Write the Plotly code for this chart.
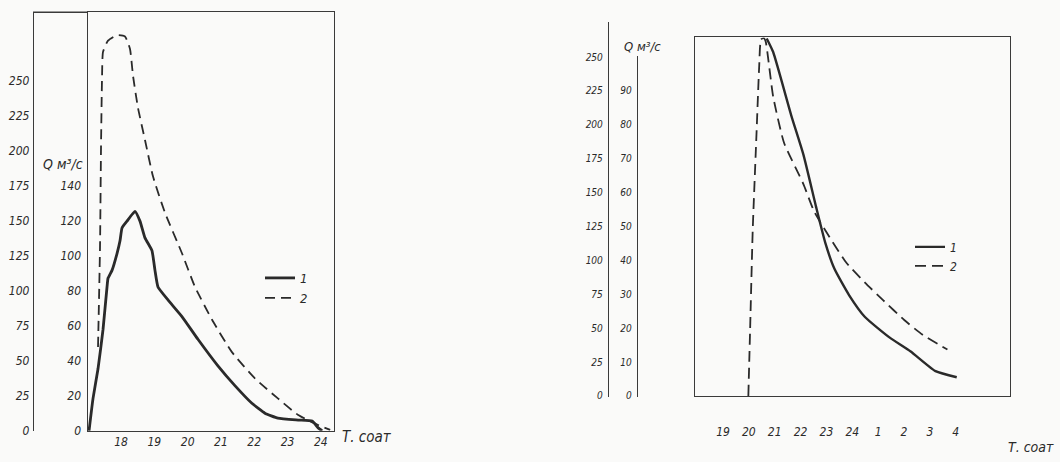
import plotly.graph_objects as go

# ---------------- data ----------------
# left panel (hours 17..24)
left_hours_1 = [17.04, 17.16, 17.31, 17.46, 17.58, 17.61, 17.73, 17.88, 17.97, 18.03, 18.18, 18.42,
                18.57, 18.72, 18.93, 19.02, 19.11, 19.41, 19.83, 20.31, 20.91, 21.42, 21.93, 22.32,
                22.71, 23.32, 23.74, 23.92, 24.04]
left_q_1 = [0, 18.6, 35.5, 58.0, 82.3, 87.3, 91.8, 101.4, 108.7, 116.1, 120.0, 125.6,
            120.0, 110.4, 103.1, 91.8, 82.3, 74.9, 65.4, 52.4, 37.2, 25.9, 15.8, 10.1,
            7.3, 6.2, 5.6, 1.7, 0]
left_hours_2 = [17.31, 17.37, 17.40, 17.43, 17.46, 17.61, 17.88, 18.12, 18.27, 18.36, 18.51, 18.72,
                18.96, 19.32, 19.83, 20.22, 20.73, 21.33, 22.03, 22.71, 23.32, 23.92, 24.28]
left_q_2 = [59.9, 132, 203, 252, 271, 279, 283, 282, 273, 254, 231, 208,
            182, 156, 127, 103, 79.6, 56.3, 37.3, 23.2, 11.3, 4.2, 0.7]

left_x_ticks = [18, 19, 20, 21, 22, 23, 24]
left_x_labels = ["18", "19", "20", "21", "22", "23", "24"]
left_outer_ticks = [0, 25, 50, 75, 100, 125, 150, 175, 200, 225, 250]
left_inner_ticks = [0, 20, 40, 60, 80, 100, 120, 140]

# right panel (hours 19..28, i.e. 19..24, 1..4)
right_hours_1 = [20.69, 20.94, 21.65, 22.11, 22.60, 22.96, 23.31, 23.88, 24.49, 25.45, 26.26, 27.22, 28.04]
right_q_1 = [105.5, 101.5, 82.5, 71.2, 55.8, 45.1, 37.5, 29.7, 23.3, 17.2, 13.1, 7.3, 5.5]
right_hours_2 = [19.98, 20.05, 20.15, 20.30, 20.40, 20.47, 20.58, 20.65, 20.94, 21.36, 22.11, 22.53,
                 23.17, 23.78, 24.49, 25.20, 26.01, 26.72, 27.68]
right_q_2 = [0, 50.1, 122.8, 195.5, 243.5, 263.1, 264, 261.6, 220.9, 186.8, 156.3, 135.9,
             115.6, 98.1, 83.6, 70.5, 56.0, 45.1, 34.2]

right_x_ticks = [19, 20, 21, 22, 23, 24, 25, 26, 27, 28]
right_x_labels = ["19", "20", "21", "22", "23", "24", "1", "2", "3", "4"]
right_outer_ticks = [0, 25, 50, 75, 100, 125, 150, 175, 200, 225, 250]
right_inner_ticks = [0, 10, 20, 30, 40, 50, 60, 70, 80, 90]

y_title = "Q м³/с"
x_title = "Т. соат"
series_names = ["1", "2"]

# ---------------- styling helpers ----------------
W, H = 1060, 462
def px_x(p):
    return p / W
def px_y(p):
    return 1 - p / H

FONT = "Liberation Sans Narrow, DejaVu Sans Condensed, Liberation Sans, sans-serif"
INK = "#2a2a2a"
AX = "#3a3a3a"

def tickfont(size):
    return dict(family=FONT, size=size, color=INK, style="italic")

fig = go.Figure()

# left panel traces
fig.add_trace(go.Scatter(x=left_hours_1, y=left_q_1, mode="lines", name=series_names[0],
                         line=dict(color=INK, width=2.8, shape="spline", smoothing=0.4),
                         xaxis="x", yaxis="y", legend="legend"))
fig.add_trace(go.Scatter(x=left_hours_2, y=left_q_2, mode="lines", name=series_names[1],
                         line=dict(color=INK, width=1.8, dash="10px,6px", shape="spline", smoothing=0.5),
                         xaxis="x", yaxis="y2", legend="legend"))

# right panel traces
fig.add_trace(go.Scatter(x=right_hours_1, y=right_q_1, mode="lines", name=series_names[0],
                         line=dict(color=INK, width=2.4, shape="spline", smoothing=0.5),
                         xaxis="x2", yaxis="y3", legend="legend2"))
fig.add_trace(go.Scatter(x=right_hours_2, y=right_q_2, mode="lines", name=series_names[1],
                         line=dict(color=INK, width=1.8, dash="11px,6px", shape="spline", smoothing=0.5),
                         xaxis="x2", yaxis="y4", legend="legend2"))
# carriers for the separate label scales of the right panel
fig.add_trace(go.Scatter(x=[None], y=[None], xaxis="x2", yaxis="y5", showlegend=False, hoverinfo="skip"))
fig.add_trace(go.Scatter(x=[None], y=[None], xaxis="x2", yaxis="y6", showlegend=False, hoverinfo="skip"))

# ---- left geometry (pixels) ----
L_left, L_right, L_top, L_bot = 87.7, 333.5, 12.5, 437.5
L_outer_x = 33
L_scale = 1.42  # px per outer unit
L_outer_max = (L_bot - L_top) / L_scale
L_inner_max = L_outer_max * 0.8

# ---- right geometry ----
R_left, R_right, R_top, R_bot = 695, 1010, 38, 402
R_scale = 1.376
R_outer_max = (R_bot - R_top) / R_scale
R_inner_max = R_outer_max * 0.4
R_outer_x, R_outer_top, R_outer_bot = 608, 22, 403
R_inner_x, R_inner_top, R_inner_bot = 637, 57, 403

common_line = dict(showline=True, linecolor=AX, linewidth=1.4, showgrid=False, zeroline=False, ticks="")

fig.update_layout(
    width=W, height=H, margin=dict(l=0, r=0, t=0, b=0),
    paper_bgcolor="#fafaf9", plot_bgcolor="rgba(0,0,0,0)",
    xaxis=dict(domain=[px_x(L_left), px_x(L_right)], range=[17.0, 24.38], anchor="y",
               tickvals=left_x_ticks, ticktext=left_x_labels, tickfont=tickfont(12),
               mirror=True, ticklabelstandoff=0, **common_line),
    yaxis=dict(domain=[px_y(L_bot), px_y(L_top)], range=[0, L_inner_max], anchor="x",
               tickvals=left_inner_ticks, tickfont=tickfont(12), mirror=True,
               ticklabelstandoff=3, **common_line),
    yaxis2=dict(overlaying="y", anchor="free", position=px_x(L_outer_x), range=[0, L_outer_max],
                tickvals=left_outer_ticks, tickfont=tickfont(12), side="left",
                ticklabelstandoff=1, **common_line),
    xaxis2=dict(domain=[px_x(R_left), px_x(R_right)], range=[17.917, 30.10], anchor="y3",
                tickvals=right_x_ticks, ticktext=right_x_labels, tickfont=tickfont(12),
                mirror=True, ticklabelstandoff=24, **common_line),
    yaxis3=dict(domain=[px_y(R_bot), px_y(R_top)], range=[0, R_inner_max], anchor="x2",
                showticklabels=False, mirror=True, **common_line),
    yaxis4=dict(overlaying="y3", range=[0, R_outer_max], anchor="x2", visible=False),
    yaxis5=dict(domain=[px_y(R_outer_bot), px_y(R_outer_top)], anchor="free", position=px_x(R_outer_x),
                range=[(R_bot - R_outer_bot) / R_scale, (R_bot - R_outer_top) / R_scale],
                tickvals=right_outer_ticks, tickfont=tickfont(10), ticklabelstandoff=3, **common_line),
    yaxis6=dict(domain=[px_y(R_inner_bot), px_y(R_inner_top)], anchor="free", position=px_x(R_inner_x),
                range=[(R_bot - R_inner_bot) / R_scale * 0.4, (R_bot - R_inner_top) / R_scale * 0.4],
                tickvals=right_inner_ticks, tickfont=tickfont(10), ticklabelstandoff=3, **common_line),
    legend=dict(x=px_x(260), y=px_y(267), xanchor="left", yanchor="top", bgcolor="rgba(0,0,0,0)",
                font=dict(family=FONT, size=13, color=INK, style="italic"), itemwidth=30,
                tracegroupgap=0),
    legend2=dict(x=px_x(910), y=px_y(236), xanchor="left", yanchor="top", bgcolor="rgba(0,0,0,0)",
                 font=dict(family=FONT, size=12, color=INK, style="italic"), itemwidth=30,
                 tracegroupgap=0),
    showlegend=True,
)

# top border of the left panel extends to the outer scale line
fig.add_shape(type="line", xref="paper", yref="paper",
              x0=px_x(L_outer_x), x1=px_x(L_left), y0=px_y(L_top), y1=px_y(L_top),
              line=dict(color=AX, width=1.4))

# axis titles as text
fig.add_annotation(x=px_x(63), y=px_y(167), xref="paper", yref="paper", text=y_title, showarrow=False,
                   xanchor="center", yanchor="middle",
                   font=dict(family=FONT, size=14, color=INK, style="italic"))
fig.add_annotation(x=px_x(642), y=px_y(47), xref="paper", yref="paper", text=y_title, showarrow=False,
                   xanchor="center", yanchor="middle",
                   font=dict(family=FONT, size=13, color=INK, style="italic"))
fig.add_annotation(x=px_x(367), y=px_y(444), xref="paper", yref="paper", text=x_title, showarrow=False,
                   xanchor="center", yanchor="middle",
                   font=dict(family=FONT, size=15, color=INK, style="italic"))
fig.add_annotation(x=px_x(1031), y=px_y(454), xref="paper", yref="paper", text=x_title, showarrow=False,
                   xanchor="center", yanchor="middle",
                   font=dict(family=FONT, size=14, color=INK, style="italic"))

fig.write_html("out.html", config={"displayModeBar": False},
               post_script="document.body.style.margin='0';document.body.style.overflow='hidden';")
